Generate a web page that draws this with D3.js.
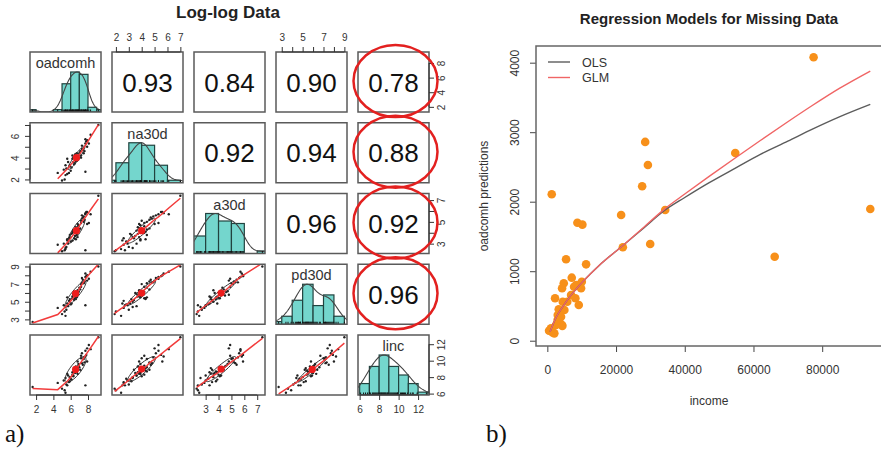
<!DOCTYPE html>
<html>
<head>
<meta charset="utf-8">
<title>Log-log Data / Regression Models for Missing Data</title>
<script src="https://cdn.jsdelivr.net/npm/d3@7/dist/d3.min.js"></script>
<style>
  body { margin: 0; background: #fff; }
  svg { display: block; font-family: "Liberation Sans", Arial, sans-serif; }
</style>
</head>
<body>
<script>
// ---- a) pairs data (log scale), null = missing
var varNames = ["oadcomh", "na30d", "a30d", "pd30d", "linc"];
var oadcomh = [1.6, 5.0, 4.5, 5.3, 5.2, 5.5, 5.6, 5.4, 5.8, 5.7, 5.9, 6.0, 5.6, 6.1, 6.2, 5.9, 6.3, 6.4, 6.2, 6.5,
               6.6, 6.3, 6.7, 6.6, 6.8, 6.5, 6.9, 6.7, 7.0, 6.8, 7.1, 7.2, 6.9, 7.3, 7.2, 7.4, 7.5, 7.3, 7.6, 7.7,
               7.5, 7.8, 7.9, 7.7, 8.1, 7.9, 8.3, 9.2, 7.7, 5.4];
var na30d   = [null, 1.9, 2.6, 2.0, 2.9, 3.0, 2.5, 3.3, 2.6, 3.6, 3.2, 2.8, 3.9, 3.1, 3.9, 3.3, 4.0, 3.4, 4.2, 3.5,
               4.3, 3.6, 4.4, 3.7, 3.8, 4.3, 3.9, 3.7, 4.4, 3.8, 4.6, 4.0, 4.2, 4.8, 4.2, 4.7, 4.4, 5.1, 4.6, 5.3,
               4.9, 5.5, 5.0, 5.7, 5.3, 5.6, 6.1, 7.0, 2.7, 2.4];
var a30d    = [null, 2.3, 2.9, 2.4, 3.0, 2.7, 3.3, 2.6, 3.5, 3.0, 3.8, 3.2, 3.4, 3.9, 3.3, 3.6, 4.1, 3.5, 4.0, 3.7,
               3.4, 4.2, 3.8, 4.5, 3.6, 4.1, 4.7, 3.9, 4.3, 4.8, 4.4, 5.1, 4.6, 5.3, 4.9, 5.4, 5.0, 5.6, 5.2, 5.7,
               5.5, 5.9, 4.8, 5.8, 4.9, 5.9, 5.7, 7.4, 2.4, 2.5];
var pd30d   = [2.7, 3.6, 4.3, 3.9, 4.6, 4.1, 4.8, 4.4, 5.1, 4.5, 5.3, 4.7, 5.5, 4.8, 5.6, 5.0, 5.8, 5.2, 5.4, 6.0,
               5.3, 5.9, 5.5, 5.7, 6.3, 5.4, 6.2, 5.6, 6.6, 5.8, 6.4, 7.0, 6.1, 7.2, 6.7, 7.5, 7.1, 7.7, 7.3, 7.8,
               7.2, 7.9, 7.4, 8.2, 7.6, 8.0, 8.4, 9.0, 4.6, 3.4];
var linc    = [6.8, 6.6, 7.3, 6.4, 7.6, 7.1, 7.0, 7.9, 7.4, 8.2, 7.5, 7.8, 8.4, 7.7, 8.6, 8.0, 8.1, 8.9, 8.3, 8.5,
               9.1, 8.2, 8.7, 9.3, 8.4, 8.8, 9.6, 8.6, 9.2, 9.9, 8.9, 10.3, 9.4, 9.7, 10.6, 9.5, 10.2, 10.9, 9.8, 11.2,
               10.4, 10.7, 11.5, 10.5, 11.9, 9.9, 11.4, 12.85, 7.0, 6.1];
// correlations printed in the upper panels, row by row
var corrValues = [0.93, 0.84, 0.90, 0.78, 0.92, 0.94, 0.88, 0.96, 0.92, 0.96];
var circledCells = [[0, 4], [1, 4], [2, 4], [3, 4]];
var tickValues = [[2, 4, 6, 8], [2, 3, 4, 5, 6, 7], [3, 4, 5, 6, 7], [3, 4, 5, 6, 7, 8, 9], [6, 8, 10, 12]];
var hLabels = [[2, 4, 6, 8], [2, 3, 4, 5, 6, 7], [3, 4, 5, 6, 7], [3, 5, 7, 9], [6, 8, 10, 12]];
var vLabels = [[2, 4, 6, 8], [2, 4, 6], [3, 5, 7], [3, 5, 7, 9], [6, 8, 10, 12]];

// ---- b) regression data
var income      = [1280, 77500, 94000, 54700, 28480, 29270, 27600, 34300, 21480, 8750, 10200, 66170, 29940, 21980,
                   5450, 11280, 7110, 4780, 4290, 8370, 9820, 10030, 7780, 2245, 6910, 8160, 9150, 4490, 3320,
                   4960, 3030, 3990, 3500, 4290, 2540, 4370, 790, 2040, 1080, 500, 1500, 5800, 3000];
var predictions = [2107, 4078, 1895, 2700, 2860, 2528, 2222, 1880, 1809, 1698, 1670, 1209, 1392, 1344,
                   1171, 1099, 907, 826, 754, 801, 754, 849, 777, 610, 658, 610, 514, 561, 452,
                   442, 370, 345, 273, 226, 226, 211, 154, 106, 178, 144, 120, 560, 300];
var fitIncome = [800, 2500, 4500, 6500, 8500, 10500, 15000, 22000, 28000, 34000, 40000, 47000, 55000, 62000, 70000, 77000, 85000, 94000];
var olsFit    = [130, 330, 490, 630, 750, 860, 1080, 1370, 1620, 1870, 2060, 2270, 2490, 2680, 2870, 3040, 3220, 3400];
var glmFit    = [130, 330, 490, 630, 750, 860, 1080, 1370, 1630, 1890, 2110, 2360, 2640, 2880, 3150, 3380, 3630, 3880];
var legendNames = ["OLS", "GLM"];
var xTicks = [0, 20000, 40000, 60000, 80000];
var yTicks = [0, 1000, 2000, 3000, 4000];

var svg = d3.select("body").append("svg").attr("width", 881).attr("height", 454);

// ================= a) pairs plot =================
var PW = 71, PH = 60;
function px(j) { return 30 + j * 82; }
function py(i) { return 52 + i * 70.75; }
var cols = [oadcomh, na30d, a30d, pd30d, linc];
var nv = varNames.length;

svg.append("clipPath").attr("id", "pclip")
  .append("rect").attr("width", PW).attr("height", PH);

var sx = [], sy = [];
cols.forEach(function(v) {
  var ext = d3.extent(v.filter(function(d) { return d != null; }));
  var pad = (ext[1] - ext[0]) * 0.04;
  sx.push(d3.scaleLinear().domain([ext[0] - pad, ext[1] + pad]).range([0, PW]));
  sy.push(d3.scaleLinear().domain([ext[0] - pad, ext[1] + pad]).range([PH, 0]));
});

function corrAt(i, j) {
  var k = 0;
  for (var a = 0; a < nv; a++) for (var b = a + 1; b < nv; b++) {
    if (a === i && b === j) return corrValues[k];
    k++;
  }
}

function lowess(pts, f, iter) {
  pts = pts.slice().sort(function(a, b) { return a[0] - b[0]; });
  var n = pts.length, x = pts.map(function(p) { return p[0]; }), y = pts.map(function(p) { return p[1]; });
  var r = Math.max(2, Math.ceil(f * n));
  var rw = x.map(function() { return 1; }), fit = new Array(n);
  for (var it = 0; it <= iter; it++) {
    for (var i = 0; i < n; i++) {
      var d = x.map(function(v) { return Math.abs(v - x[i]); });
      var h = d.slice().sort(function(a, b) { return a - b; })[r - 1] * 1.0001 + 1e-9;
      var sw = 0, s1 = 0, s2 = 0, s11 = 0, s12 = 0;
      for (var j = 0; j < n; j++) {
        var u = d[j] / h; if (u >= 1) continue;
        var w = Math.pow(1 - u * u * u, 3) * rw[j];
        sw += w; s1 += w * x[j]; s2 += w * y[j]; s11 += w * x[j] * x[j]; s12 += w * x[j] * y[j];
      }
      if (sw <= 0) { fit[i] = y[i]; continue; }
      var mx = s1 / sw, my = s2 / sw, vx = s11 / sw - mx * mx;
      var b = vx > 1e-10 ? (s12 / sw - mx * my) / vx : 0;
      fit[i] = my + b * (x[i] - mx);
    }
    if (it === iter) break;
    var res = y.map(function(v, k) { return v - fit[k]; });
    var s = d3.median(res.map(Math.abs)) || 1e-6;
    rw = res.map(function(e) { var u = e / (6 * s); return Math.abs(u) < 1 ? Math.pow(1 - u * u, 2) : 0; });
  }
  return x.map(function(v, k) { return [v, fit[k]]; });
}

function density(vals, lo, hi) {
  var s = vals.slice().sort(d3.ascending);
  var iqr = d3.quantile(s, 0.75) - d3.quantile(s, 0.25);
  var bw = 1.06 * Math.min(d3.deviation(s), iqr / 1.34) * Math.pow(s.length, -0.2);
  return d3.range(0, 121).map(function(k) {
    var x = lo + (hi - lo) * k / 120;
    return [x, d3.sum(s, function(v) { return Math.exp(-0.5 * Math.pow((x - v) / bw, 2)); })];
  });
}

var pairs = svg.append("g");

for (var i = 0; i < nv; i++) {
  for (var j = 0; j < nv; j++) {
    var g = pairs.append("g").attr("transform", "translate(" + px(j) + "," + py(i) + ")");
    var inner = g.append("g").attr("clip-path", "url(#pclip)");
    if (i === j) {
      var vals = cols[i].filter(function(d) { return d != null; });
      var xs = sx[i];
      var dom = xs.domain();
      var lo = Math.floor(d3.min(vals)), hi = Math.ceil(d3.max(vals));
      var bins = d3.bin().domain([lo, hi]).thresholds(d3.range(lo, hi + 1))(vals);
      var maxC = d3.max(bins, function(b) { return b.length; });
      var hy = d3.scaleLinear().domain([0, 1.5]).range([PH, 0]);
      inner.selectAll("rect.bar").data(bins).enter().append("rect")
        .attr("x", function(b) { return xs(b.x0); })
        .attr("width", function(b) { return xs(b.x1) - xs(b.x0); })
        .attr("y", function(b) { return hy(b.length / maxC); })
        .attr("height", function(b) { return PH - hy(b.length / maxC); })
        .attr("fill", "#74d6cd").attr("stroke", "#21433f").attr("stroke-width", 1.2);
      var dens = density(vals, dom[0] - 1, dom[1] + 1);
      var dmax = d3.max(dens, function(d) { return d[1]; });
      inner.append("path")
        .attr("d", d3.line().x(function(d) { return xs(d[0]); }).y(function(d) { return hy(d[1] / dmax); })(dens))
        .attr("fill", "none").attr("stroke", "#444").attr("stroke-width", 1.1);
      inner.selectAll("line.rug").data(vals).enter().append("line")
        .attr("x1", function(d) { return xs(d); }).attr("x2", function(d) { return xs(d); })
        .attr("y1", PH).attr("y2", PH - 2.5)
        .attr("stroke", "#111").attr("stroke-width", 1);
      g.append("text").attr("x", PW / 2).attr("y", 16).attr("text-anchor", "middle")
        .attr("font-size", 14.5).attr("fill", "#333").text(varNames[i]);
    } else if (i < j) {
      g.append("text").attr("x", PW / 2).attr("y", PH / 2 + 9.5).attr("text-anchor", "middle")
        .attr("font-size", 26).attr("fill", "#111").text(corrAt(i, j).toFixed(2));
    } else {
      var pts = [];
      cols[j].forEach(function(v, k) {
        if (v != null && cols[i][k] != null) pts.push([v, cols[i][k]]);
      });
      var xsc = sx[j], ysc = sy[i];
      inner.selectAll("circle.pt").data(pts).enter().append("circle")
        .attr("cx", function(d) { return xsc(d[0]); }).attr("cy", function(d) { return ysc(d[1]); })
        .attr("r", 1.2).attr("fill", "#222");
      // correlation ellipse (1 sd) around the means
      var mxv = d3.mean(pts, function(d) { return d[0]; }), myv = d3.mean(pts, function(d) { return d[1]; });
      var sdx = d3.deviation(pts, function(d) { return d[0]; }), sdy = d3.deviation(pts, function(d) { return d[1]; });
      var r = corrAt(j, i), th = 1 / Math.sqrt(2), a = Math.sqrt(1 + r), bb = Math.sqrt(1 - r);
      var ell = d3.range(0, 52).map(function(k) {
        var t = k * 2 * Math.PI / 51, c = Math.cos(t), s = Math.sin(t);
        return [(c * a * th - s * bb * th) * sdx + mxv, (c * a * th + s * bb * th) * sdy + myv];
      });
      inner.append("path")
        .attr("d", d3.line().x(function(d) { return xsc(d[0]); }).y(function(d) { return ysc(d[1]); })(ell))
        .attr("fill", "none").attr("stroke", "#333").attr("stroke-width", 1);
      var lw = lowess(pts, 2 / 3, 3);
      inner.append("path")
        .attr("d", d3.line().x(function(d) { return xsc(d[0]); }).y(function(d) { return ysc(d[1]); })(lw))
        .attr("fill", "none").attr("stroke", "#f23b3b").attr("stroke-width", 1.5);
      inner.append("circle").attr("cx", xsc(mxv)).attr("cy", ysc(myv)).attr("r", 3.6).attr("fill", "#ee1c1c");
    }
    g.append("rect").attr("width", PW).attr("height", PH)
      .attr("fill", "none").attr("stroke", "#5a5a5a").attr("stroke-width", 1.5);
  }
}

// pairs axes
function styleAxis(sel) {
  sel.select(".domain").remove();
  sel.selectAll(".tick line").attr("stroke", "#333");
  sel.selectAll(".tick text").attr("fill", "#333").attr("font-size", 10)
    .attr("font-family", "Liberation Sans, Arial, sans-serif");
}
function fmt(labels) { return function(v) { return labels.indexOf(v) >= 0 ? v : ""; }; }

for (var k = 0; k < nv; k++) {
  var tv = tickValues[k];
  // horizontal axes: bottom on even columns, top on odd columns
  var hax, hy0, hs = sx[k];
  if (k % 2 === 0) { hax = d3.axisBottom(hs); hy0 = py(nv - 1) + PH; }
  else { hax = d3.axisTop(hs); hy0 = py(0); }
  hax.tickValues(tv).tickFormat(fmt(hLabels[k])).tickSize(5).tickSizeOuter(0).tickPadding(6);
  var ha = svg.append("g").attr("transform", "translate(" + px(k) + "," + hy0 + ")").call(hax);
  styleAxis(ha);
  ha.append("line").attr("x1", hs(tv[0])).attr("x2", hs(tv[tv.length - 1])).attr("stroke", "#333");

  // vertical axes: right on even rows, left on odd rows
  var vs = sy[k], vax, vx0, right = (k % 2 === 0);
  if (right) { vax = d3.axisRight(vs); vx0 = px(nv - 1) + PW; }
  else { vax = d3.axisLeft(vs); vx0 = px(0); }
  vax.tickValues(tv).tickFormat(fmt(vLabels[k])).tickSize(5).tickSizeOuter(0);
  var va = svg.append("g").attr("transform", "translate(" + vx0 + "," + py(k) + ")").call(vax);
  styleAxis(va);
  va.selectAll(".tick text").attr("transform", "rotate(-90)").attr("x", 0).attr("dy", 0)
    .attr("y", right ? 16 : -11).style("text-anchor", "middle");
  va.append("line").attr("y1", vs(tv[0])).attr("y2", vs(tv[tv.length - 1])).attr("stroke", "#333");
}

// red circles around the linc correlations
svg.append("g").selectAll("ellipse").data(circledCells).enter().append("ellipse")
  .attr("cx", function(d) { return px(d[1]) + PW / 2 + 2; })
  .attr("cy", function(d) { return py(d[0]) + PH / 2 - 1; })
  .attr("rx", 42).attr("ry", 36)
  .attr("fill", "none").attr("stroke", "#e3201f").attr("stroke-width", 2.5);

svg.append("text").attr("x", 228).attr("y", 18).attr("text-anchor", "middle")
  .attr("font-size", 17).attr("font-weight", "bold").attr("fill", "#222").text("Log-log Data");
svg.append("text").attr("x", 5).attr("y", 442).attr("font-family", "Liberation Serif, Times New Roman, serif")
  .attr("font-size", 25).attr("fill", "#111").text("a)");

// ================= b) regression plot =================
var bx0 = 536, bx1 = 883, by0 = 46, by1 = 346;
var xS = d3.scaleLinear().domain([-3300, 97700]).range([bx0, bx1]);
var yS = d3.scaleLinear().domain([-76, 4240]).range([by1, by0]);

var bxAxis = svg.append("g").attr("transform", "translate(0," + by1 + ")")
  .call(d3.axisBottom(xS).tickValues(xTicks).tickFormat(d3.format("d")).tickSize(6).tickSizeOuter(0).tickPadding(13));
bxAxis.select(".domain").remove();
bxAxis.selectAll(".tick text").attr("font-size", 12).attr("fill", "#333")
  .attr("font-family", "Liberation Sans, Arial, sans-serif");
bxAxis.selectAll(".tick line").attr("stroke", "#444");

var byAxis = svg.append("g").attr("transform", "translate(" + bx0 + ",0)")
  .call(d3.axisLeft(yS).tickValues(yTicks).tickFormat(d3.format("d")).tickSize(6).tickSizeOuter(0));
byAxis.select(".domain").remove();
byAxis.selectAll(".tick line").attr("stroke", "#444");
byAxis.selectAll(".tick text").attr("font-size", 12).attr("fill", "#333")
  .attr("font-family", "Liberation Sans, Arial, sans-serif")
  .attr("transform", "rotate(-90)").attr("x", 0).attr("dy", 0).attr("y", -17).style("text-anchor", "middle");

var pointData = income.map(function(v, k) { return [v, predictions[k]]; });
svg.append("g").selectAll("circle").data(pointData).enter().append("circle")
  .attr("cx", function(d) { return xS(d[0]); }).attr("cy", function(d) { return yS(d[1]); })
  .attr("r", 4.3).attr("fill", "#f7901a");

var fitLine = d3.line().x(function(d) { return xS(d[0]); }).y(function(d) { return yS(d[1]); }).curve(d3.curveMonotoneX);
var fits = [olsFit, glmFit], fitColors = ["#5c5c5c", "#f06565"];
fits.forEach(function(f, k) {
  svg.append("path").attr("d", fitLine(fitIncome.map(function(v, m) { return [v, f[m]]; })))
    .attr("fill", "none").attr("stroke", fitColors[k]).attr("stroke-width", 1.4);
});

svg.append("rect").attr("x", bx0).attr("y", by0).attr("width", bx1 - bx0).attr("height", by1 - by0)
  .attr("fill", "none").attr("stroke", "#666").attr("stroke-width", 1.5);

var leg = svg.append("g").selectAll("g").data(legendNames).enter().append("g")
  .attr("transform", function(d, k) { return "translate(548," + (62 + k * 15.5) + ")"; });
leg.append("line").attr("x1", 0).attr("x2", 22)
  .attr("stroke", function(d, k) { return fitColors[k]; }).attr("stroke-width", 1.4);
leg.append("text").attr("x", 34).attr("y", 4.5).attr("font-size", 12.5).attr("fill", "#333")
  .text(function(d) { return d; });

svg.append("text").attr("x", 709).attr("y", 24).attr("text-anchor", "middle")
  .attr("font-size", 15).attr("font-weight", "bold").attr("fill", "#222").text("Regression Models for Missing Data");
svg.append("text").attr("x", 709).attr("y", 405).attr("text-anchor", "middle")
  .attr("font-size", 12).attr("fill", "#333").text("income");
svg.append("text").attr("transform", "translate(488,196) rotate(-90)").attr("text-anchor", "middle")
  .attr("font-size", 12).attr("fill", "#333").text("oadcomh predictions");
svg.append("text").attr("x", 486).attr("y", 442).attr("font-family", "Liberation Serif, Times New Roman, serif")
  .attr("font-size", 25).attr("fill", "#111").text("b)");
</script>
</body>
</html>
